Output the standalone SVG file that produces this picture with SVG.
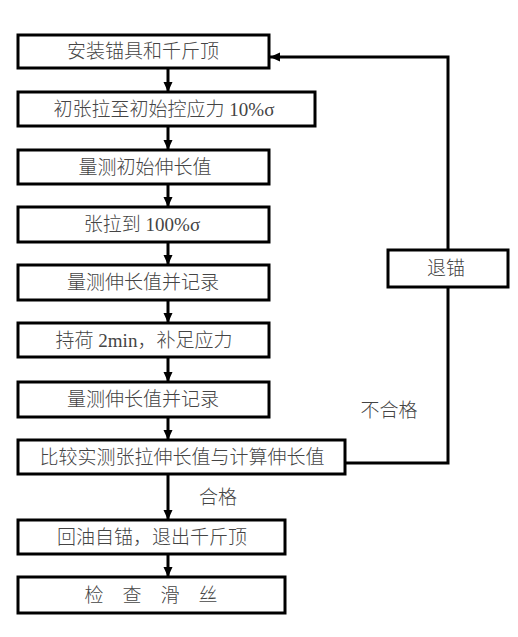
<svg xmlns="http://www.w3.org/2000/svg" width="518" height="637" viewBox="0 0 518 637">
<style>
.box{fill:#fff;stroke:#000;stroke-width:3}
.t{font-family:"Liberation Serif","Noto Sans CJK SC",serif;font-size:19px;font-weight:300;fill:#444;text-anchor:middle;dominant-baseline:central}
.c{fill:none;stroke:#000;stroke-width:3}
</style>
<defs>
<marker id="ah" markerUnits="userSpaceOnUse" markerWidth="10" markerHeight="12" viewBox="0 0 10 12" refX="10" refY="6" orient="auto">
<path d="M0,1.5 L10,6 L0,10.5 Z" fill="#000"/>
</marker>
</defs>
<rect width="518" height="637" fill="#fff"/>
<g id="connectors">
<line class="c" x1="168" y1="68" x2="168" y2="92" marker-end="url(#ah)"/>
<line class="c" x1="168" y1="126" x2="168" y2="150" marker-end="url(#ah)"/>
<line class="c" x1="168" y1="184" x2="168" y2="207" marker-end="url(#ah)"/>
<line class="c" x1="168" y1="242" x2="168" y2="265" marker-end="url(#ah)"/>
<line class="c" x1="168" y1="300" x2="168" y2="323" marker-end="url(#ah)"/>
<line class="c" x1="168" y1="357" x2="168" y2="382" marker-end="url(#ah)"/>
<line class="c" x1="168" y1="417" x2="168" y2="440" marker-end="url(#ah)"/>
<line class="c" x1="168" y1="474" x2="168" y2="520" marker-end="url(#ah)"/>
<line class="c" x1="168" y1="554" x2="168" y2="577" marker-end="url(#ah)"/>
<polyline class="c" points="345,463 448,463 448,287"/>
<polyline class="c" points="448,250 448,57 270,57" marker-end="url(#ah)"/>
<text class="t" x="218" y="497">合格</text>
<text class="t" x="389" y="410">不合格</text>
</g>
<g id="n1"><rect class="box" x="18" y="35" width="251" height="33"/><text class="t" x="143" y="51.5">安装锚具和千斤顶</text></g>
<g id="n2"><rect class="box" x="18" y="92" width="297" height="34"/><text class="t" x="164" y="109">初张拉至初始控应力 10%σ</text></g>
<g id="n3"><rect class="box" x="18" y="150" width="251" height="34"/><text class="t" x="145" y="167">量测初始伸长值</text></g>
<g id="n4"><rect class="box" x="18" y="207" width="251" height="35"/><text class="t" x="142" y="224.5">张拉到 100%σ</text></g>
<g id="n5"><rect class="box" x="18" y="265" width="251" height="35"/><text class="t" x="143" y="282.5">量测伸长值并记录</text></g>
<g id="n6"><rect class="box" x="18" y="323" width="251" height="34"/><text class="t" x="144" y="340">持荷 2min，补足应力</text></g>
<g id="n7"><rect class="box" x="18" y="382" width="251" height="35"/><text class="t" x="143" y="399.5">量测伸长值并记录</text></g>
<g id="n8"><rect class="box" x="18" y="440" width="327" height="34"/><text class="t" x="182" y="457">比较实测张拉伸长值与计算伸长值</text></g>
<g id="n9"><rect class="box" x="18" y="520" width="267" height="34"/><text class="t" x="152" y="537">回油自锚，退出千斤顶</text></g>
<g id="n10"><rect class="box" x="18" y="577" width="267" height="36"/><text class="t" x="151" y="595">检　查　滑　丝</text></g>
<g id="n11"><rect class="box" x="388" y="250" width="120" height="37"/><text class="t" x="446" y="268.5">退锚</text></g>
</svg>
